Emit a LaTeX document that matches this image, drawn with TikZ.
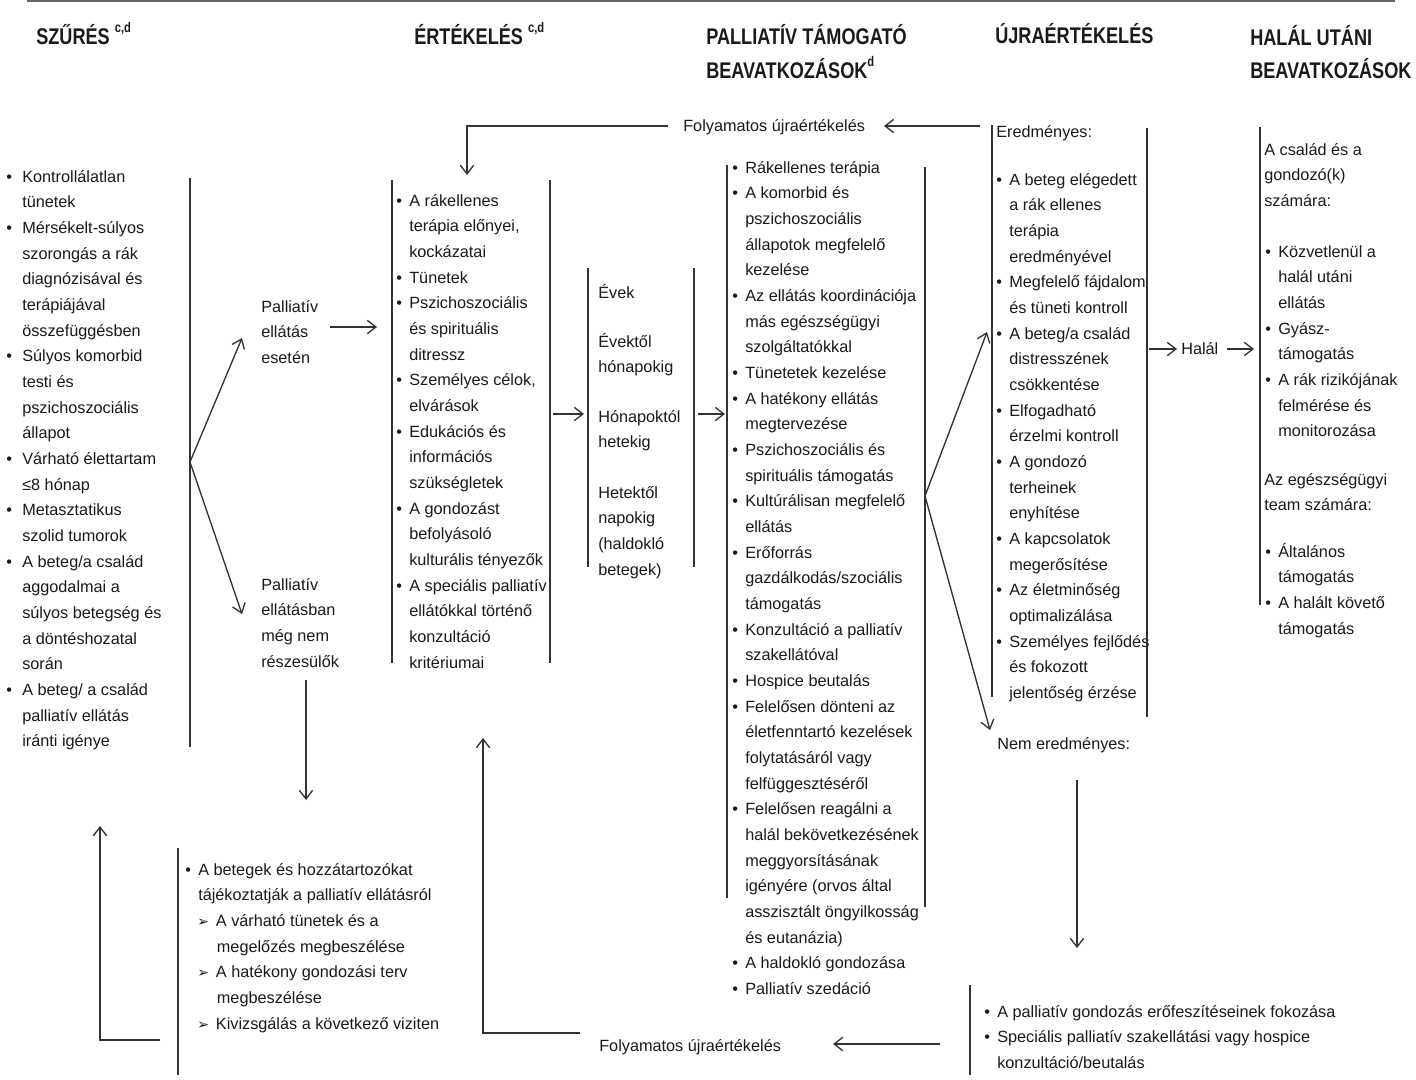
\documentclass[tikz,border=0pt]{standalone}
\usepackage{fontspec}
\setmainfont{Liberation Sans}
\newfontfamily\headfont[FakeStretch=0.8]{Liberation Sans}
\newfontfamily\dingfont{DejaVu Sans}
\usetikzlibrary{arrows.meta}

\definecolor{ink}{HTML}{1A1A1A}
\definecolor{rule}{HTML}{333333}

\newlength\bw
\setlength\bw{9.75pt}
\newcommand\bodyfont{\fontsize{12.2pt}{19.25pt}\selectfont}
\newcommand\bu{\makebox[\bw][l]{•}}
\newcommand\ii{\hspace*{\bw}}
\newcommand\sub{\makebox[14pt][l]{\hspace*{9pt}}}
\newcommand\tri{\hspace*{9pt}\makebox[14pt][l]{{\dingfont\fontsize{10.5pt}{10.5pt}\selectfont ➢}}}
\newcommand\rows[1]{\begin{tabular}[t]{@{}l@{}}#1\end{tabular}}
\newcommand\supr[1]{\raisebox{9pt}{\headfont\fontsize{10.5pt}{10.5pt}\selectfont #1}}

\tikzset{
  txt/.style={anchor=base west, inner sep=0pt, font=\bodyfont, text=ink},
  head/.style={anchor=base west, inner sep=0pt, text=ink,
    font=\headfont\bfseries\fontsize{17pt}{25.5pt}\selectfont},
  bar/.style={draw=rule, line width=1.1pt},
  link/.style={draw=rule, line width=1.0pt,
    -{Straight Barb[length=6.5pt,width=10pt,line width=1pt]}},
}

\begin{document}
\begin{tikzpicture}[x=0.75pt, y=-0.75pt]
\useasboundingbox (0,0) rectangle (1416,1079);
\fill[white] (0,0) rectangle (1416,1079);

% top rule
\draw[draw=gray!80!black, line width=1.5pt] (27,1) -- (1395,1);

% column headings
\node[head] (h1) at (36,44) {SZŰRÉS \supr{c,d}};
\node[head] (h2) at (414,44) {ÉRTÉKELÉS \supr{c,d}};
\node[head] (h3a) at (706,44) {PALLIATÍV TÁMOGATÓ};
\node[head] (h3b) at (706,78) {BEAVATKOZÁSOK\supr{d}};
\node[head] (h4) at (995,43) {ÚJRAÉRTÉKELÉS};
\node[head] (h5a) at (1250,45) {HALÁL UTÁNI};
\node[head] (h5b) at (1250,78) {BEAVATKOZÁSOK};

% screening criteria
\node[txt] (screen) at (6,182) {\setlength\bw{12pt}\rows{%
\bu Kontrollálatlan\\
\ii tünetek\\
\bu Mérsékelt-súlyos\\
\ii szorongás a rák\\
\ii diagnózisával és\\
\ii terápiájával\\
\ii összefüggésben\\
\bu Súlyos komorbid\\
\ii testi és\\
\ii pszichoszociális\\
\ii állapot\\
\bu Várható élettartam\\
\ii ≤8 hónap\\
\bu Metasztatikus\\
\ii szolid tumorok\\
\bu A beteg/a család\\
\ii aggodalmai a\\
\ii súlyos betegség és\\
\ii a döntéshozatal\\
\ii során\\
\bu A beteg/ a család\\
\ii palliatív ellátás\\
\ii iránti igénye}};
\draw[bar] (190,178) -- (190,747);

% branches
\node[txt] (yes) at (261,312) {\rows{Palliatív\\ellátás\\esetén}};
\node[txt] (no) at (261,590) {\rows{Palliatív\\ellátásban\\még nem\\részesülők}};
\coordinate (split) at (190,462);
\coordinate (yesin) at (242,338);
\coordinate (noin) at (242,614);
\draw[link] (split) -- (yesin);
\draw[link] (split) -- (noin);

% assessment
\node[txt] (assess) at (396,206) {\rows{%
\bu A rákellenes\\
\ii terápia előnyei,\\
\ii kockázatai\\
\bu Tünetek\\
\bu Pszichoszociális\\
\ii és spirituális\\
\ii ditressz\\
\bu Személyes célok,\\
\ii elvárások\\
\bu Edukációs és\\
\ii információs\\
\ii szükségletek\\
\bu A gondozást\\
\ii befolyásoló\\
\ii kulturális tényezők\\
\bu A speciális palliatív\\
\ii ellátókkal történő\\
\ii konzultáció\\
\ii kritériumai}};
\draw[bar] (392,180) -- (392,663);
\draw[bar] (550,180) -- (550,663);
\coordinate (yesout) at (330,327);
\coordinate (assin) at (377,327);
\draw[link] (yesout) -- (assin);

% time frame
\node[txt] (t1) at (598,298) {Évek};
\node[txt] (t2) at (598,347) {\rows{Évektől\\hónapokig}};
\node[txt] (t3) at (598,422) {\rows{Hónapoktól\\hetekig}};
\node[txt] (t4) at (598,498) {\rows{Hetektől\\napokig\\(haldokló\\betegek)}};
\draw[bar] (588,268) -- (588,567);
\draw[bar] (694,268) -- (694,567);
\coordinate (assout) at (553,414);
\coordinate (timein) at (584,414);
\coordinate (timeout) at (698,414);
\coordinate (intin) at (725,414);
\draw[link] (assout) -- (timein);
\draw[link] (timeout) -- (intin);

% interventions
\node[txt] (interv) at (732,173) {\rows{%
\bu Rákellenes terápia\\
\bu A komorbid és\\
\ii pszichoszociális\\
\ii állapotok megfelelő\\
\ii kezelése\\
\bu Az ellátás koordinációja\\
\ii más egészségügyi\\
\ii szolgáltatókkal\\
\bu Tünetetek kezelése\\
\bu A hatékony ellátás\\
\ii megtervezése\\
\bu Pszichoszociális és\\
\ii spirituális támogatás\\
\bu Kultúrálisan megfelelő\\
\ii ellátás\\
\bu Erőforrás\\
\ii gazdálkodás/szociális\\
\ii támogatás\\
\bu Konzultáció a palliatív\\
\ii szakellátóval\\
\bu Hospice beutalás\\
\bu Felelősen dönteni az\\
\ii életfenntartó kezelések\\
\ii folytatásáról vagy\\
\ii felfüggesztéséről\\
\bu Felelősen reagálni a\\
\ii halál bekövetkezésének\\
\ii meggyorsításának\\
\ii igényére (orvos által\\
\ii asszisztált öngyilkosság\\
\ii és eutanázia)\\
\bu A haldokló gondozása\\
\bu Palliatív szedáció}};
\draw[bar] (727,165) -- (727,898);
\draw[bar] (925,167) -- (925,907);

% outcome split
\coordinate (fork) at (925,496);
\coordinate (goodin) at (987,332);
\coordinate (badin) at (990,730);
\draw[link] (fork) -- (goodin);
\draw[link] (fork) -- (badin);

% successful reassessment
\node[txt] (good) at (996,137) {Eredményes:};
\node[txt] (goodlist) at (996,185) {\rows{%
\bu A beteg elégedett\\
\ii a rák ellenes\\
\ii terápia\\
\ii eredményével\\
\bu Megfelelő fájdalom\\
\ii és tüneti kontroll\\
\bu A beteg/a család\\
\ii distresszének\\
\ii csökkentése\\
\bu Elfogadható\\
\ii érzelmi kontroll\\
\bu A gondozó\\
\ii terheinek\\
\ii enyhítése\\
\bu A kapcsolatok\\
\ii megerősítése\\
\bu Az életminőség\\
\ii optimalizálása\\
\bu Személyes fejlődés\\
\ii és fokozott\\
\ii jelentőség érzése}};
\draw[bar] (992,125) -- (992,697);
\draw[bar] (1147,128) -- (1147,717);

% feedback loop at the top
\node[txt] (loopt) at (683,131) {Folyamatos újraértékelés};
\coordinate (goodout) at (980,126);
\coordinate (looptin) at (884,126);
\coordinate (looptout) at (668,126);
\coordinate (loopcorner) at (467,126);
\coordinate (assessin) at (467,175);
\draw[link] (goodout) -- (looptin);
\draw[link] (looptout) -- (loopcorner) -- (assessin);

% death
\node[txt] (death) at (1181,354) {Halál};
\coordinate (deathin) at (1177,349);
\coordinate (deathfrom) at (1149,349);
\coordinate (deathout) at (1227,349);
\coordinate (postin) at (1254,349);
\draw[link] (deathfrom) -- (deathin);
\draw[link] (deathout) -- (postin);

% after death
\node[txt] (fam) at (1264,155) {\rows{A család és a\\gondozó(k)\\számára:}};
\node[txt] (famlist) at (1265,257) {\rows{%
\bu Közvetlenül a\\
\ii halál utáni\\
\ii ellátás\\
\bu Gyász-\\
\ii támogatás\\
\bu A rák rizikójának\\
\ii felmérése és\\
\ii monitorozása}};
\node[txt] (team) at (1264,485) {\rows{Az egészségügyi\\team számára:}};
\node[txt] (teamlist) at (1265,557) {\rows{%
\bu Általános\\
\ii támogatás\\
\bu A halált követő\\
\ii támogatás}};
\draw[bar] (1260,127) -- (1260,605);

% unsuccessful branch
\node[txt] (bad) at (997,749) {Nem eredményes:};
\coordinate (badout) at (1077,780);
\coordinate (escin) at (1077,948);
\draw[link] (badout) -- (escin);
\node[txt] (esc) at (984,1017) {\rows{%
\bu A palliatív gondozás erőfeszítéseinek fokozása\\
\bu Speciális palliatív szakellátási vagy hospice\\
\ii konzultáció/beutalás}};
\draw[bar] (970,985) -- (970,1075);

% feedback loop at the bottom
\node[txt] (loopb) at (599,1051) {Folyamatos újraértékelés};
\coordinate (escout) at (940,1044);
\coordinate (loopbin) at (833,1044);
\draw[link] (escout) -- (loopbin);
\coordinate (loopbout) at (580,1033);
\coordinate (loopbcorner) at (483,1033);
\coordinate (assessback) at (483,738);
\draw[link] (loopbout) -- (loopbcorner) -- (assessback);

% not yet in palliative care
\coordinate (noout) at (306,680);
\coordinate (infoin) at (306,800);
\draw[link] (noout) -- (infoin);
\node[txt] (info) at (185,875) {\rows{%
\bu A betegek és hozzátartozókat\\
\ii tájékoztatják a palliatív ellátásról\\
\tri A várható tünetek és a\\
\sub\ii megelőzés megbeszélése\\
\tri A hatékony gondozási terv\\
\sub\ii megbeszélése\\
\tri Kivizsgálás a következő viziten}};
\draw[bar] (178,848) -- (178,1075);
\coordinate (infoout) at (160,1040);
\coordinate (infocorner) at (100,1040);
\coordinate (screenback) at (100,826);
\draw[link] (infoout) -- (infocorner) -- (screenback);
\end{tikzpicture}
\end{document}
